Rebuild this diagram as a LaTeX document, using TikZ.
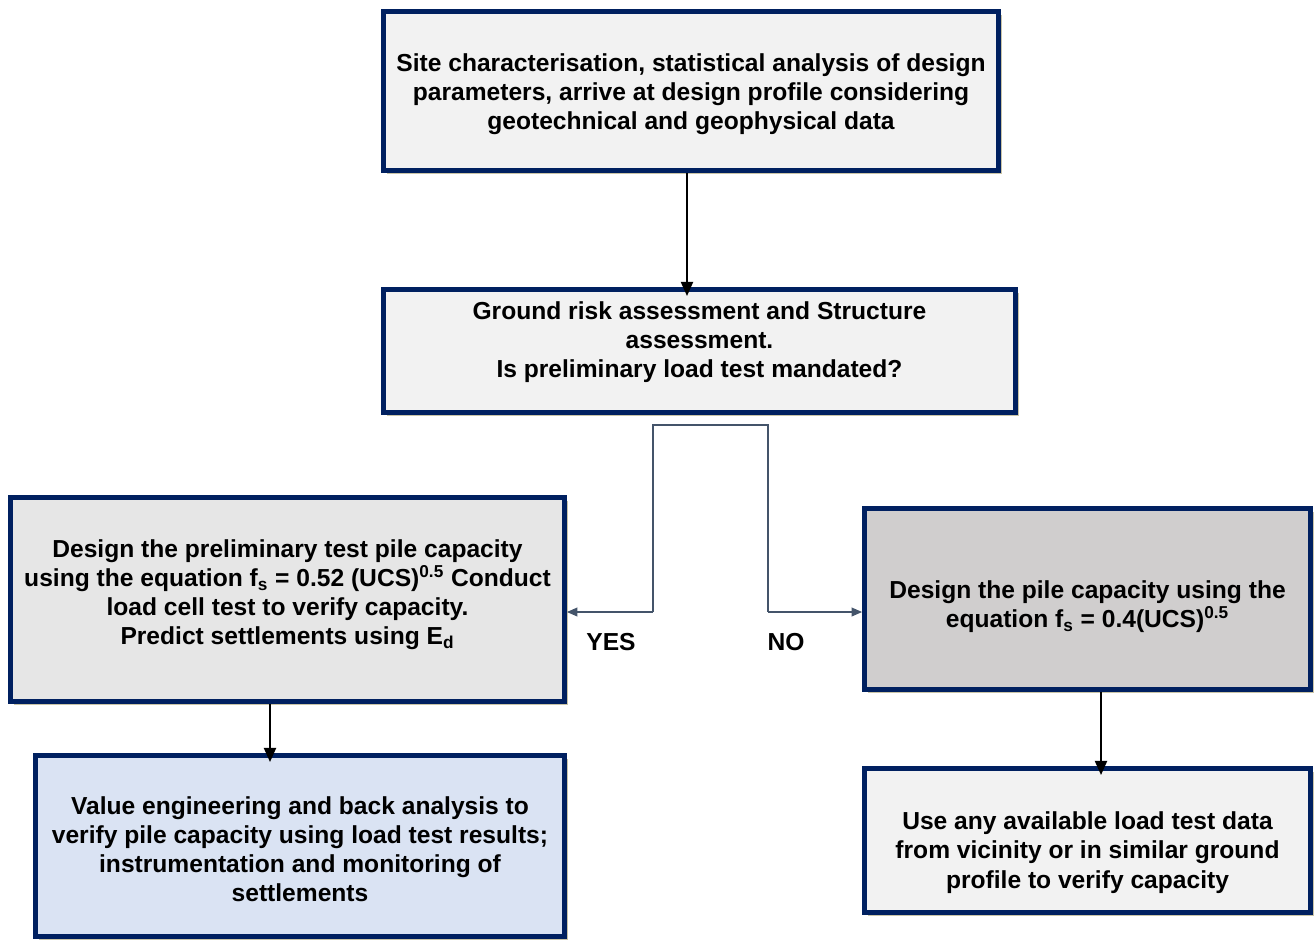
\documentclass[tikz,border=0pt]{standalone}
\usepackage{fontspec}
\setmainfont{Liberation Sans}
\usetikzlibrary{arrows.meta,shadows}
\definecolor{navy}{RGB}{0,32,96}
\definecolor{shade}{RGB}{196,190,156}
\definecolor{slate}{RGB}{68,84,106}
\definecolor{palegrey}{RGB}{242,242,242}
\definecolor{midgrey}{RGB}{230,230,230}
\definecolor{darkgrey}{RGB}{208,206,206}
\definecolor{paleblue}{RGB}{218,227,243}
\tikzset{
   box/.style={draw=navy, line width=2.7pt, rectangle, inner sep=0pt,
      drop shadow={shadow xshift=1.8pt, shadow yshift=-1.8pt, fill=shade, opacity=0.9}},
   boxtext/.style={align=center, inner sep=0pt, font=\bfseries\fontsize{14}{16.6}\selectfont},
   link/.style={draw=black, line width=0.7pt, -{Triangle[length=8pt,width=7pt]}, shorten >=-5pt},
   branch/.style={draw=slate, line width=0.8pt},
   answer/.style={font=\bfseries\fontsize{14}{16.6}\selectfont}
}
\begin{document}
\begin{tikzpicture}[x=0.02cm, y=-0.02cm]
   \useasboundingbox (0,0) rectangle (1315,940);
   \begin{scope}
      \def \Boxes {
         site/691/91/615/159/3/palegrey/{Site characterisation, statistical analysis of design\\parameters, arrive at design profile considering\\geotechnical and geophysical data},
         risk/699.5/351/632/123/-9/palegrey/{Ground risk assessment and Structure\\assessment.\\Is preliminary load test mandated?},
         prelim/287.5/599.5/554/204/-5/midgrey/{Design the preliminary test pile capacity\\using the equation f\textsubscript{s} = 0.52 (UCS)\textsuperscript{0.5} Conduct\\load cell test to verify capacity.\\Predict settlements using E\textsubscript{d}},
         pile/1087.5/599/446/181/8/darkgrey/{Design the pile capacity using the\\equation f\textsubscript{s} = 0.4(UCS)\textsuperscript{0.5}},
         value/300/846/529/181/3/paleblue/{Value engineering and back analysis to\\verify pile capacity using load test results;\\instrumentation and monitoring of\\settlements},
         nearby/1087.5/840.5/446/144/12/palegrey/{Use any available load test data\\from vicinity or in similar ground\\profile to verify capacity}}
      \foreach \no / \x / \y / \w / \h / \dy / \col / \na in \Boxes {
         \node[box, fill=\col, minimum width=\w*0.02cm, minimum height=\h*0.02cm,
            label={[boxtext, yshift=-\dy*0.02cm]center:\na}] (\no) at (\x, \y) {};
      }
   \end{scope}
   % decision branches
   \coordinate (yesturn) at (653,612);
   \coordinate (noturn) at (768,612);
   \draw[branch] (yesturn) |- (768,425) -- (noturn);
   \draw[branch, -{Triangle[length=6pt,width=5pt]}] (yesturn) -- (yesturn -| prelim.east);
   \draw[branch, -{Triangle[length=6pt,width=5pt]}] (noturn) -- (noturn -| pile.west);
   \node[answer] (yes) at (611,642) {YES};
   \node[answer] (no) at (786,642) {NO};
   % straight links
   \draw[link] (687,0 |- site.south) -- (687,0 |- risk.north);
   \draw[link] (270,0 |- prelim.south) -- (270,0 |- value.north);
   \draw[link] (1101,0 |- pile.south) -- (1101,0 |- nearby.north);
\end{tikzpicture}
\end{document}
